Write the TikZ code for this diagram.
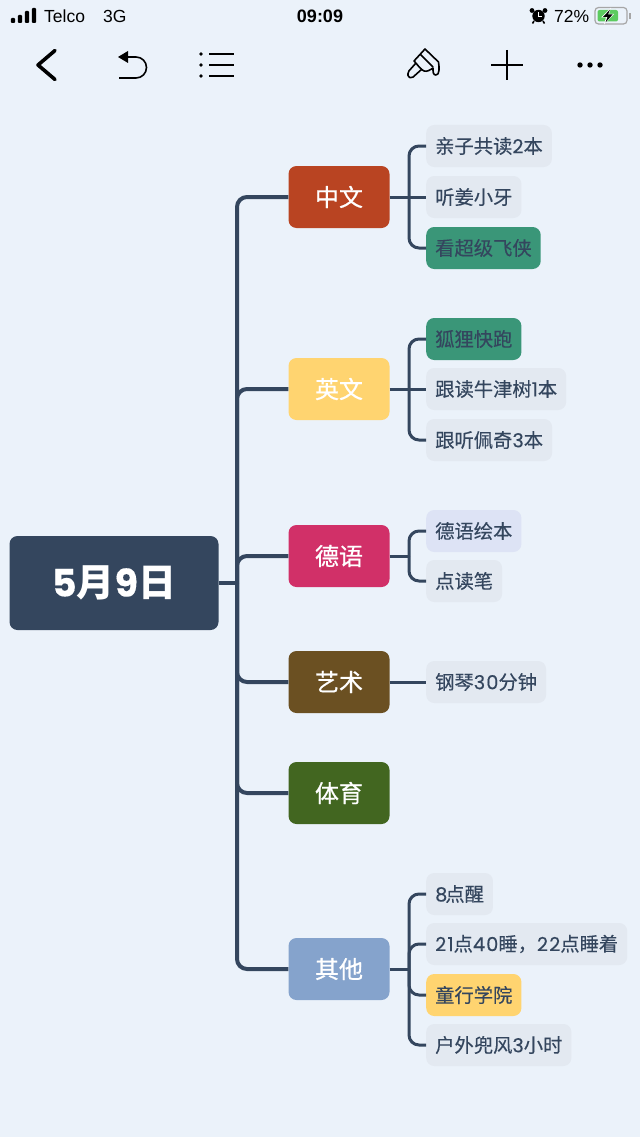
\documentclass[tikz,border=0pt]{standalone}
\usepackage{fontspec}
\setmainfont{Noto Sans CJK SC}
\newfontfamily\mediumfont{Noto Sans CJK SC}[FakeBold=0.3]
\newfontfamily\headfont{Noto Sans CJK SC}[FakeBold=0.7]
\newfontfamily\statusfont{Liberation Sans}
\newfontfamily\digitfont{Poppins}[FakeBold=0.2,LetterSpace=6]
\newcommand{\dg}[1]{{\digitfont #1}}
\usetikzlibrary{arrows.meta}

\definecolor{pagebg}{HTML}{EBF2FA}
\definecolor{slate}{HTML}{34465E}
\definecolor{leafgrey}{HTML}{E3E9F1}
\definecolor{leafgreen}{HTML}{3A9678}
\definecolor{leafblue}{HTML}{DDE3F5}
\definecolor{sunny}{HTML}{FFD470}
\definecolor{rust}{HTML}{B94422}
\definecolor{berry}{HTML}{D13068}
\definecolor{umber}{HTML}{6B5022}
\definecolor{moss}{HTML}{426620}
\definecolor{steel}{HTML}{85A3CC}
\definecolor{batterygreen}{HTML}{5CCB5F}

\tikzset{
  rootbox/.style={fill=slate,text=white,rounded corners=8pt,minimum width=209pt,minimum height=94pt,font=\fontsize{38}{38}\selectfont\bfseries,inner sep=0pt},
  branchbox/.style={fill=#1,text=white,rounded corners=8pt,minimum width=101pt,minimum height=62pt,font=\fontsize{24}{24}\selectfont\headfont,inner sep=0pt},
  leafbox/.style={fill=#1,text=slate,rounded corners=8pt,anchor=west,minimum height=42pt,inner xsep=9pt,inner ysep=0pt,font=\fontsize{19.3}{20}\selectfont\mediumfont},
  leafbox/.default=leafgrey,
  mainlink/.style={draw=slate,line width=4pt,rounded corners=10pt},
  sublink/.style={draw=slate,line width=3pt,rounded corners=10pt},
  statustext/.style={font=\fontsize{17.5}{18}\selectfont\statusfont,text=black,inner sep=0pt},
  iconline/.style={draw=black,line width=1.6pt}
}

\begin{document}
\begin{tikzpicture}[x=1pt,y=-1pt]

    % page
    \fill[pagebg] (0,0) rectangle (640,1137);
    \useasboundingbox (0,0) rectangle (640,1137);

    % status bar
    \foreach \x/\h in {13/5,20/8,27/12,34/15}
      \fill[black,rounded corners=1pt] (\x-2.2,23) rectangle (\x+2.2,23-\h);
    \node[statustext,anchor=west] (carrier) at (44,16.5) {Telco};
    \node[statustext,anchor=west] (network) at (103,16.5) {3G};
    \node[statustext,anchor=center,font=\fontsize{18}{18}\selectfont\statusfont\bfseries] (clock) at (320,16.5) {09:09};
    \node[statustext,anchor=west] (percent) at (554,16.5) {72\%};

    % alarm
    \fill[black] (538.5,16) circle (6.2pt);
    \fill[black] (532,10.5) circle (2.4pt) (545,10.5) circle (2.4pt);
    \draw[black,line width=1.6pt] (534,21) -- (532.5,23.5) (543,21) -- (544.5,23.5);
    \draw[white,line width=1pt] (538.5,12.5) -- (538.5,16.5) -- (541.5,16.5);

    % battery
    \draw[gray!70,line width=1.2pt,rounded corners=3.5pt] (595,7.5) rectangle (627,24);
    \fill[gray!70] (629,13) rectangle (630.5,19);
    \fill[batterygreen,rounded corners=2pt] (597.5,10) rectangle (618,21.5);
    \fill[white] (611,7.5) -- (601,17.5) -- (606,17.5) -- (604,24.5) -- (614,14) -- (609,14) -- cycle;
    \fill[black] (610,9.5) -- (603,17) -- (607.5,17) -- (605.5,22.5) -- (612.5,14.5) -- (608,14.5) -- cycle;

    % toolbar
    \draw[black,line width=3.6pt,line cap=round,line join=round] (55,50.5) -- (38,65) -- (55,79.5);
    \fill[black] (118,57) -- (128,51) -- (128,63) -- cycle;
    \draw[iconline] (127,57) -- (136,57) arc (90:-90:10.5pt) -- (119,78);
    \foreach \y in {54,65,76} {
      \fill[black] (201,\y) circle (1.9pt);
      \draw[black,line width=1.5pt] (209,\y) -- (233.5,\y);
    }
    \draw[iconline,line join=round] (425,49) -- (414,61) .. controls (417,64) and (421,70) .. (424,71) .. controls (427,72) and (430,70) .. (433,68) .. controls (433,72) and (433,75) .. (436,75) .. controls (439.5,75) and (439.5,68) .. (438.5,62) -- cycle;
    \draw[iconline,line join=round,rounded corners=1.5pt] (416,63) -- (408,72) -- (408,77) -- (412,78) -- (422,69);
    \draw[iconline] (420,54) -- (433,67);
    \draw[black,line width=1.5pt] (491,65) -- (523,65) (507,50) -- (507,80);
    \foreach \x in {580,590,600}
      \fill[black] (\x,65) circle (2.7pt);

    % root and branches
    \node[rootbox] (root) at (114,583) {\dg{5}月\dg{9}日};
    \coordinate (trunk) at (237,583);
    \node[branchbox=rust] (chinese) at (339,197) {中文};
    \node[branchbox=sunny] (english) at (339,389) {英文};
    \node[branchbox=berry] (german) at (339,556) {德语};
    \node[branchbox=umber] (art) at (339,682) {艺术};
    \node[branchbox=moss] (sport) at (339,793) {体育};
    \node[branchbox=steel] (other) at (339,969) {其他};

    % leaves
    \node[leafbox] (cnone) at (426,146) {亲子共读\dg{2}本};
    \node[leafbox] (cntwo) at (426,197) {听姜小牙};
    \node[leafbox=leafgreen] (cnthree) at (426,248) {看超级飞侠};
    \node[leafbox=leafgreen] (enone) at (426,339) {狐狸快跑};
    \node[leafbox] (entwo) at (426,389) {跟读牛津树\dg{1}本};
    \node[leafbox] (enthree) at (426,440) {跟听佩奇\dg{3}本};
    \node[leafbox=leafblue] (deone) at (426,531) {德语绘本};
    \node[leafbox] (detwo) at (426,581) {点读笔};
    \node[leafbox] (artone) at (426,682) {钢琴\dg{30}分钟};
    \node[leafbox] (otherone) at (426,894) {\dg{8}\kern-2pt 点醒};
    \node[leafbox] (othertwo) at (426,944) {\dg{21}点\dg{40}睡，\dg{22}点睡着};
    \node[leafbox=sunny] (otherthree) at (426,995) {童行学院};
    \node[leafbox] (otherfour) at (426,1045) {户外兜风\dg{3}小时};

    % main connectors
    \draw[mainlink] (root.east) -- (trunk);
    \draw[mainlink] (trunk) |- (chinese.west);
    \draw[mainlink] (trunk) |- (english.west);
    \draw[mainlink] (trunk) |- (german.west);
    \draw[mainlink] (trunk) |- (art.west);
    \draw[mainlink] (trunk) |- (sport.west);
    \draw[mainlink] (trunk) |- (other.west);

    % leaf connectors
    \coordinate (cnfork) at (409,197);
    \draw[sublink] (chinese.east) -- (cntwo.west);
    \draw[sublink] (cnfork) |- (cnone.west);
    \draw[sublink] (cnfork) |- (cnthree.west);

    \coordinate (enfork) at (409,389);
    \draw[sublink] (english.east) -- (entwo.west);
    \draw[sublink] (enfork) |- (enone.west);
    \draw[sublink] (enfork) |- (enthree.west);

    \coordinate (defork) at (409,556);
    \draw[sublink] (german.east) -- (defork);
    \draw[sublink] (defork) |- (deone.west);
    \draw[sublink] (defork) |- (detwo.west);

    \draw[sublink] (art.east) -- (artone.west);

    \coordinate (otherfork) at (409,969);
    \draw[sublink] (other.east) -- (otherfork);
    \draw[sublink] (otherfork) |- (otherone.west);
    \draw[sublink] (otherfork) |- (othertwo.west);
    \draw[sublink] (otherfork) |- (otherthree.west);
    \draw[sublink] (otherfork) |- (otherfour.west);

\end{tikzpicture}
\end{document}
